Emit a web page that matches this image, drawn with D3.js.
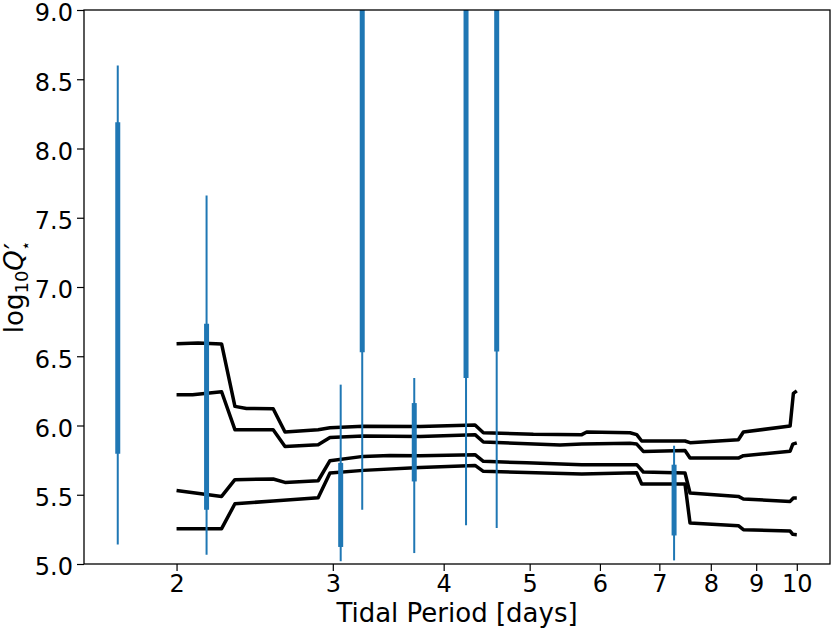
<!DOCTYPE html>
<html><head><meta charset="utf-8">
<script src="https://cdn.jsdelivr.net/npm/d3@7"></script>
<style>body{margin:0;background:#fff}svg{display:block}text{font-family:"DejaVu Sans",sans-serif}</style>
</head><body><svg id="c" width="831" height="629"></svg>
<script>
// Error bar data: period, thin low/high, thick low/high
const barPeriods = [1.717, 2.162, 3.062, 3.238, 3.706, 4.239, 4.590, 7.273];
const thinLow   = [5.14, 5.067, 5.02, 5.392, 5.079, 5.279, 5.26, 5.026];
const thinHigh  = [8.60, 7.66, 6.295, 10.5, 6.343, 10.5, 10.5, 5.854];
const thickLow  = [5.796, 5.392, 5.123, 6.528, 5.596, 6.343, 6.535, 5.206];
const thickHigh = [8.19, 6.735, 5.73, 10.0, 6.162, 10.0, 10.0, 5.717];

// Four model curves: [period, log10 Q]
const curveA = [[2.000,6.591],[2.115,6.596],[2.248,6.589],[2.327,6.138],[2.398,6.123],[2.570,6.121],[2.650,5.953],[2.888,5.970],[2.978,5.984],[3.246,5.995],[3.762,5.992],[4.339,6.004],[4.434,5.948],[5.048,5.936],[5.724,5.934],[5.798,5.953],[6.487,5.948],[6.601,5.934],[6.687,5.888],[7.482,5.888],[7.580,5.876],[8.593,5.897],[8.706,5.953],[9.828,5.996],[9.912,6.232],[10.0,6.25]];
const curveB = [[2.000,6.222],[2.085,6.222],[2.248,6.244],[2.327,5.970],[2.570,5.970],[2.650,5.849],[2.888,5.861],[2.978,5.914],[3.246,5.924],[3.762,5.921],[4.339,5.934],[4.434,5.881],[5.410,5.859],[5.724,5.866],[6.487,5.872],[6.601,5.866],[6.715,5.813],[7.482,5.820],[7.580,5.765],[8.593,5.765],[8.706,5.782],[9.828,5.814],[9.897,5.866],[10.0,5.875]];
const curveC = [[2.000,5.531],[2.248,5.488],[2.327,5.609],[2.570,5.614],[2.650,5.589],[2.888,5.601],[2.978,5.746],[3.246,5.777],[3.479,5.784],[3.762,5.782],[4.339,5.789],[4.434,5.741],[4.962,5.731],[5.724,5.717],[6.601,5.717],[6.715,5.664],[7.482,5.657],[7.580,5.513],[8.593,5.488],[8.706,5.469],[9.828,5.452],[9.912,5.477],[10.0,5.477]];
const curveD = [[2.000,5.255],[2.248,5.255],[2.327,5.435],[2.570,5.455],[2.888,5.479],[2.978,5.657],[3.246,5.676],[3.762,5.697],[4.339,5.712],[4.434,5.669],[5.724,5.650],[6.601,5.659],[6.687,5.578],[7.482,5.578],[7.580,5.296],[8.593,5.277],[8.706,5.248],[9.828,5.238],[9.897,5.214],[10.0,5.212]];
const curves = [curveA, curveB, curveC, curveD];

const xTicks = [2,3,4,5,6,7,8,9,10];
const yTicks = [5.0,5.5,6.0,6.5,7.0,7.5,8.0,8.5,9.0];

const W = 831, H = 629;
const m = {l:84, r:1, t:10, b:65};
const svg = d3.select("#c");
const x = d3.scaleLog().domain([1.573, 10.9]).range([m.l, W - m.r]);
const y = d3.scaleLinear().domain([5, 9]).range([H - m.b, m.t]);

svg.append("clipPath").attr("id","clip").append("rect")
  .attr("x", m.l).attr("y", m.t).attr("width", W-m.r-m.l).attr("height", H-m.b-m.t);
const g = svg.append("g").attr("clip-path","url(#clip)");

const line = d3.line().x(d=>x(d[0])).y(d=>y(d[1]));
g.selectAll("path.curve").data(curves).enter().append("path")
  .attr("class","curve").attr("d", line).attr("fill","none")
  .attr("stroke","#000").attr("stroke-width",3.5).attr("stroke-linejoin","round");

const blue = "#1f77b4";
g.selectAll("line.thin").data(barPeriods).enter().append("line")
  .attr("x1",(d)=>x(d)).attr("x2",(d)=>x(d))
  .attr("y1",(d,i)=>y(thinLow[i])).attr("y2",(d,i)=>y(thinHigh[i]))
  .attr("stroke",blue).attr("stroke-width",2);
g.selectAll("line.thick").data(barPeriods).enter().append("line")
  .attr("x1",(d)=>x(d)).attr("x2",(d)=>x(d))
  .attr("y1",(d,i)=>y(thickLow[i])).attr("y2",(d,i)=>y(thickHigh[i]))
  .attr("stroke",blue).attr("stroke-width",5);

// axes
const xAxis = d3.axisBottom(x).tickValues(xTicks).tickFormat(d3.format("d")).tickSize(7).tickPadding(4);
const gx = svg.append("g").attr("transform",`translate(0,${H-m.b})`).call(xAxis);
const yAxis = d3.axisLeft(y).tickValues(yTicks).tickFormat(d3.format(".1f")).tickSize(7).tickPadding(4);
const gy = svg.append("g").attr("transform",`translate(${m.l},0)`).call(yAxis);
[gx, gy].forEach(a=>{
  a.select(".domain").remove();
  a.selectAll("text").attr("font-size",24).attr("fill","#000").style("font-family","'DejaVu Sans'");
  a.selectAll("line").attr("stroke","#000").attr("stroke-width",1.2);
});
gy.selectAll("text").attr("dy","0.45em");

// frame
svg.append("rect").attr("x",m.l).attr("y",m.t).attr("width",W-m.r-m.l).attr("height",H-m.b-m.t)
  .attr("fill","none").attr("stroke","#000").attr("stroke-width",1.3);

// labels
svg.append("text").attr("x",(m.l+W-m.r)/2).attr("y",622).attr("text-anchor","middle")
  .attr("font-size",26).text("Tidal Period [days]");
const yl = svg.append("text").attr("transform",`translate(23,${(m.t+H-m.b)/2}) rotate(-90)`)
  .attr("text-anchor","middle").attr("font-size",26);
yl.append("tspan").text("log");
yl.append("tspan").attr("font-size",18).attr("dy",5).text("10");
yl.append("tspan").attr("dy",-5).attr("font-style","italic").text("Q");
yl.append("tspan").attr("font-size",28).attr("dx",1).attr("dy",2).text("′");
yl.append("tspan").attr("font-size",16).attr("dx",-8).attr("dy",6).text("⋆");
</script></body></html>
